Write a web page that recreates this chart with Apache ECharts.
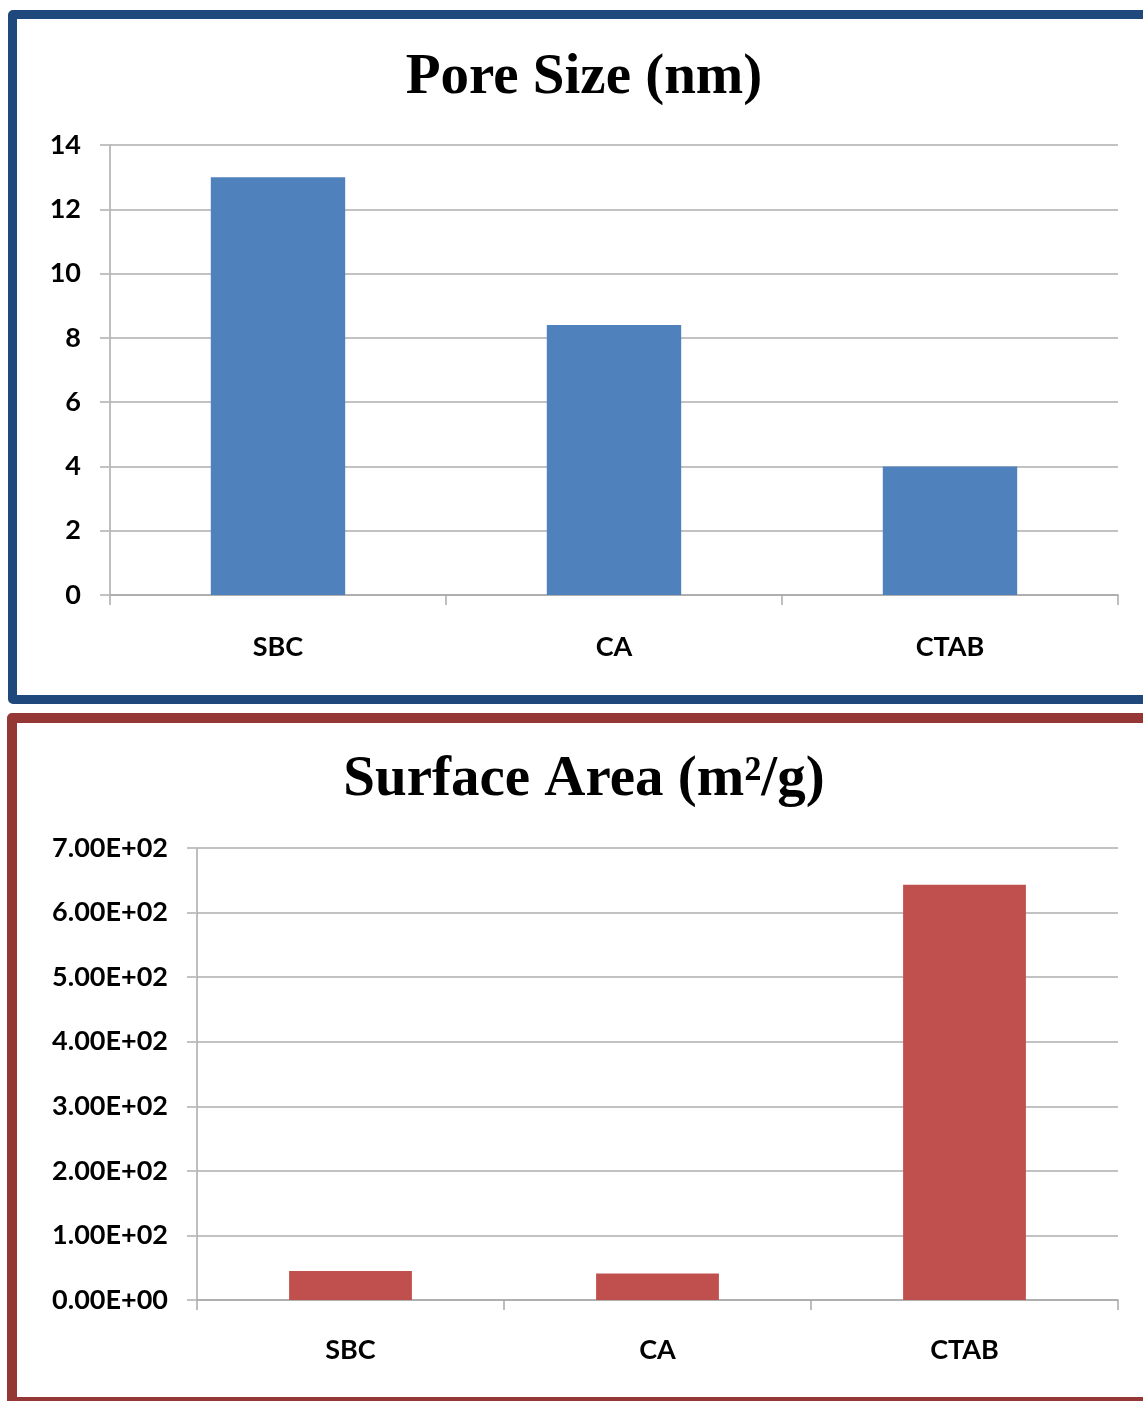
<!DOCTYPE html>
<html>
<head>
<meta charset="utf-8">
<script src="https://cdn.jsdelivr.net/npm/echarts@6/dist/echarts.min.js"></script>
<style>
  html, body { margin: 0; padding: 0; background: #ffffff; overflow: hidden; }
  body { width: 1143px; height: 1401px; position: relative; }
  .panel { position: absolute; box-sizing: border-box; border-radius: 5px; background: #fff; }
  #poreBox { left: 8px; top: 10px; width: 1170px; height: 694px; border: 9px solid #1f497d; }
  #areaBox { left: 7px; top: 713px; width: 1170px; height: 694px; border: 10px solid #953735; }
  #chart { position: absolute; left: 0; top: 0; width: 1143px; height: 1401px; }
</style>
</head>
<body>
<div class="panel" id="poreBox"></div>
<div class="panel" id="areaBox"></div>
<div id="chart"></div>
<script>
// Samples shared by both panels
const categories = ['SBC', 'CA', 'CTAB'];
// Pore size, nm
const poreSize = [13, 8.4, 4];
// BET surface area, m2/g
const surfaceArea = [45, 41, 643];
// Axis tick settings
const poreTicks = { min: 0, max: 14, interval: 2 };
const areaTicks = { min: 0, max: 700, interval: 100 };

const labelFont = 'Lato, "Open Sans", sans-serif';
const titleFont = '"Liberation Serif", "Times New Roman", serif';
const gridGray = '#c2c2c2';
const axisGray = '#a9a9a9';

function catAxis(gridIndex, margin) {
  return {
    type: 'category',
    gridIndex: gridIndex,
    data: categories,
    axisLine: { show: true, lineStyle: { color: axisGray, width: 1.5 } },
    axisTick: { show: true, length: 10, lineStyle: { color: axisGray, width: 1.5 } },
    axisLabel: { color: '#000', fontFamily: labelFont, fontWeight: 'bold', fontSize: 27, margin: margin }
  };
}

function valAxis(gridIndex, ticks, formatter) {
  return {
    type: 'value',
    gridIndex: gridIndex,
    min: ticks.min, max: ticks.max, interval: ticks.interval,
    axisLine: { show: true, lineStyle: { color: axisGray, width: 1.5 } },
    axisTick: { show: true, length: 10, lineStyle: { color: gridGray, width: 2 } },
    splitLine: { show: true, lineStyle: { color: gridGray, width: 2 } },
    axisLabel: { color: '#000', fontFamily: labelFont, fontWeight: 'bold', fontSize: 27, margin: 29, formatter: formatter }
  };
}

function sci(v) {
  if (v === 0) return '0.00E+00';
  const e = Math.floor(Math.log10(Math.abs(v)));
  const m = v / Math.pow(10, e);
  return m.toFixed(2) + 'E' + (e >= 0 ? '+' : '-') + String(Math.abs(e)).padStart(2, '0');
}

const chart = echarts.init(document.getElementById('chart'), null, { renderer: 'canvas' });
chart.setOption({
  backgroundColor: 'transparent',
  animation: false,
  title: [
    {
      text: 'Pore Size (nm)', left: 579, top: 45, textAlign: 'center',
      textStyle: { fontFamily: titleFont, fontWeight: 'bold', fontSize: 57, color: '#000' }
    },
    {
      text: 'Surface Area (m²/g)', left: 579, top: 747, textAlign: 'center',
      textStyle: { fontFamily: titleFont, fontWeight: 'bold', fontSize: 57, color: '#000' }
    }
  ],
  grid: [
    { left: 110, top: 145, right: 25, height: 450 },
    { left: 197, top: 848, right: 25, height: 452 }
  ],
  xAxis: [catAxis(0, 39), catAxis(1, 37)],
  yAxis: [valAxis(0, poreTicks), valAxis(1, areaTicks, sci)],
  series: [
    {
      type: 'bar', xAxisIndex: 0, yAxisIndex: 0, data: poreSize,
      barCategoryGap: '60%', itemStyle: { color: '#4f81bd' }
    },
    {
      type: 'bar', xAxisIndex: 1, yAxisIndex: 1, data: surfaceArea,
      barCategoryGap: '60%', itemStyle: { color: '#c0504d' }
    }
  ]
});
</script>
</body>
</html>
